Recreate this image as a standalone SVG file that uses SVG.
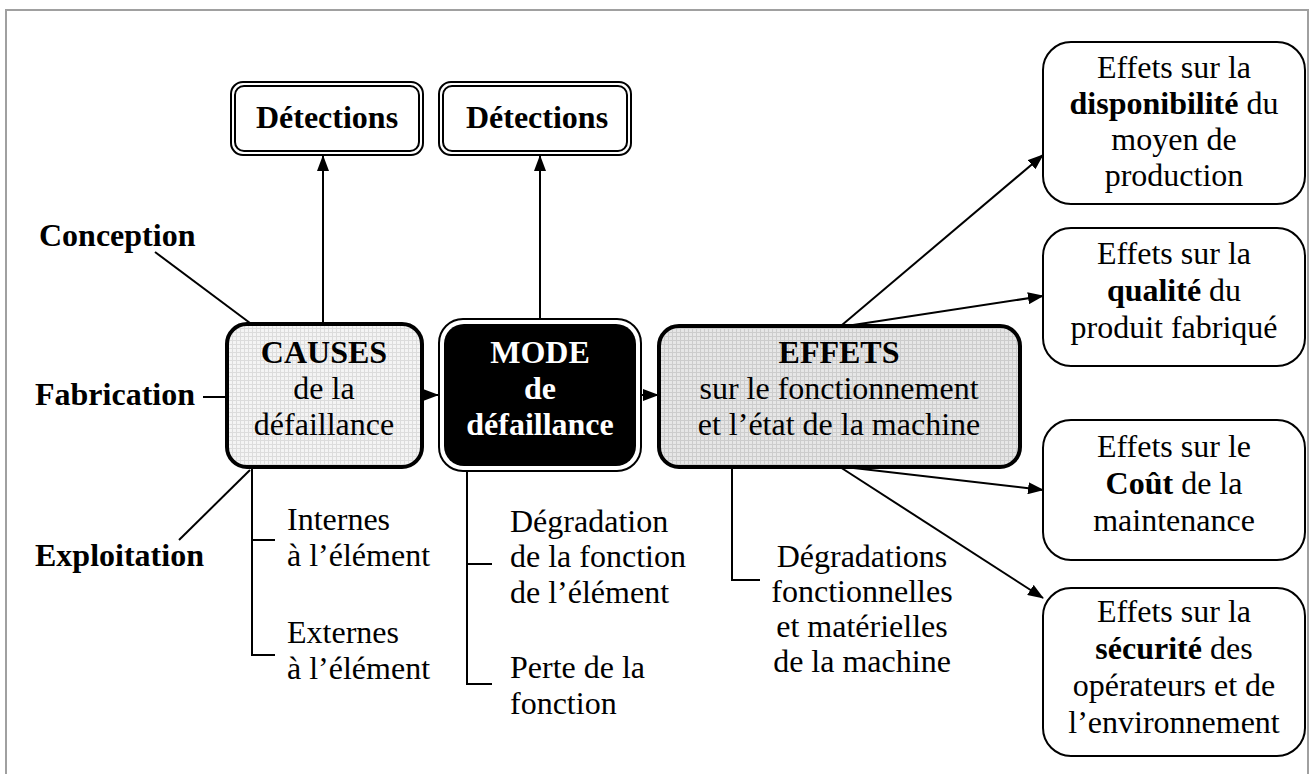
<svg xmlns="http://www.w3.org/2000/svg" width="1314" height="774" viewBox="0 0 1314 774">
<style>
text{font-family:"Liberation Serif","Times New Roman",serif;font-size:32px;fill:#000}
.b{font-weight:bold}
.c{text-anchor:middle}
.w{fill:#fff}
.ln{stroke:#000;stroke-width:2;fill:none}
.box{stroke:#000;stroke-width:2;fill:#fff}
.thick{stroke:#000;stroke-width:4}
</style>
<defs>
<pattern id="g1" width="4" height="4" patternUnits="userSpaceOnUse">
<rect width="4" height="4" fill="#f4f4f4"/>
<path d="M0,0.5H4M0.5,0V4" stroke="#dcdcdc" stroke-width="1"/>
</pattern>
<pattern id="g2" width="4" height="4" patternUnits="userSpaceOnUse">
<rect width="4" height="4" fill="#e6e6e6"/>
<path d="M0,0.5H4M0.5,0V4" stroke="#cccccc" stroke-width="1"/>
</pattern>
<marker id="ah" markerWidth="16" markerHeight="12" refX="15" refY="6" orient="auto" markerUnits="userSpaceOnUse">
<path d="M0,0L16,6L0,12z" fill="#000"/>
</marker>
</defs>
<rect width="1314" height="774" fill="#fff"/>
<path d="M6,774V10H1308V774" fill="none" stroke="#a0a0a0" stroke-width="2"/>

<g id="connectors">
<line class="ln" x1="155" y1="252" x2="250" y2="323"/>
<line class="ln" x1="203" y1="397" x2="226" y2="397"/>
<line class="ln" x1="179" y1="540" x2="250" y2="470"/>
<line class="ln" x1="323" y1="323" x2="323" y2="156" marker-end="url(#ah)"/>
<line class="ln" x1="540" y1="318" x2="540" y2="156" marker-end="url(#ah)"/>
<line class="ln" x1="422" y1="395" x2="438" y2="395" marker-end="url(#ah)"/>
<line class="ln" x1="642" y1="395" x2="658" y2="395" marker-end="url(#ah)"/>
<line class="ln" x1="842" y1="325" x2="1043" y2="155" marker-end="url(#ah)"/>
<line class="ln" x1="853" y1="325" x2="1043" y2="296" marker-end="url(#ah)"/>
<line class="ln" x1="845" y1="467" x2="1043" y2="490" marker-end="url(#ah)"/>
<line class="ln" x1="840" y1="467" x2="1043" y2="598" marker-end="url(#ah)"/>
<path class="ln" d="M275,540H252M252,467V655H275"/>
<path class="ln" d="M492,564H467M467,471V684H492"/>
<path class="ln" d="M732,467V580H760"/>
</g>

<g id="det1">
<rect class="box" x="231" y="82" width="192" height="73" rx="12"/>
<rect class="box" x="235" y="86" width="184" height="65" rx="9"/>
<text class="b c" x="327" y="128">Détections</text>
</g>
<g id="det2">
<rect class="box" x="439" y="82" width="192" height="73" rx="12"/>
<rect class="box" x="443" y="86" width="184" height="65" rx="9"/>
<text class="b c" x="537" y="128">Détections</text>
</g>

<g id="causes">
<rect x="227" y="324" width="195" height="143" rx="20" fill="url(#g1)" class="thick"/>
<text class="b c" x="324" y="363">CAUSES</text>
<text class="c" x="324" y="399">de la</text>
<text class="c" x="324" y="435">défaillance</text>
</g>

<g id="mode">
<rect x="439" y="319" width="202" height="152" rx="24" fill="#fff" stroke="#000" stroke-width="2"/>
<rect x="444" y="324" width="192" height="142" rx="20" fill="#000"/>
<text class="b c w" x="540" y="363">MODE</text>
<text class="b c w" x="540" y="399">de</text>
<text class="b c w" x="540" y="435">défaillance</text>
</g>

<g id="effets">
<rect x="659" y="326" width="361" height="141" rx="20" fill="url(#g2)" class="thick"/>
<text class="b c" x="839" y="363">EFFETS</text>
<text class="c" x="839" y="399">sur le fonctionnement</text>
<text class="c" x="839" y="435">et l’état de la machine</text>
</g>

<g id="conception"><text class="b" x="39" y="246">Conception</text></g>
<g id="fabrication"><text class="b" x="35" y="405">Fabrication</text></g>
<g id="exploitation"><text class="b" x="35" y="566">Exploitation</text></g>

<g id="internes">
<text x="287" y="530">Internes</text>
<text x="287" y="566">à l’élément</text>
</g>
<g id="externes">
<text x="287" y="643">Externes</text>
<text x="287" y="679">à l’élément</text>
</g>
<g id="degradation">
<text x="510" y="532">Dégradation</text>
<text x="510" y="567">de la fonction</text>
<text x="510" y="603">de l’élément</text>
</g>
<g id="perte">
<text x="510" y="678">Perte de la</text>
<text x="510" y="714">fonction</text>
</g>
<g id="degradations">
<text class="c" x="862" y="567">Dégradations</text>
<text class="c" x="862" y="602">fonctionnelles</text>
<text class="c" x="862" y="637">et matérielles</text>
<text class="c" x="862" y="672">de la machine</text>
</g>

<g id="disponibilite">
<rect class="box" x="1043" y="42" width="262" height="162" rx="28"/>
<text class="c" x="1174" y="78">Effets sur la</text>
<text class="c" x="1174" y="114"><tspan class="b">disponibilité</tspan> du</text>
<text class="c" x="1174" y="150">moyen de</text>
<text class="c" x="1174" y="186">production</text>
</g>
<g id="qualite">
<rect class="box" x="1043" y="228" width="262" height="138" rx="28"/>
<text class="c" x="1174" y="264">Effets sur la</text>
<text class="c" x="1174" y="301"><tspan class="b">qualité</tspan> du</text>
<text class="c" x="1174" y="338">produit fabriqué</text>
</g>
<g id="cout">
<rect class="box" x="1043" y="420" width="262" height="140" rx="28"/>
<text class="c" x="1174" y="457">Effets sur le</text>
<text class="c" x="1174" y="494"><tspan class="b">Coût</tspan> de la</text>
<text class="c" x="1174" y="531">maintenance</text>
</g>
<g id="securite">
<rect class="box" x="1043" y="588" width="262" height="168" rx="28"/>
<text class="c" x="1174" y="622">Effets sur la</text>
<text class="c" x="1174" y="659"><tspan class="b">sécurité</tspan> des</text>
<text class="c" x="1174" y="696">opérateurs et de</text>
<text class="c" x="1174" y="733">l’environnement</text>
</g>
</svg>
